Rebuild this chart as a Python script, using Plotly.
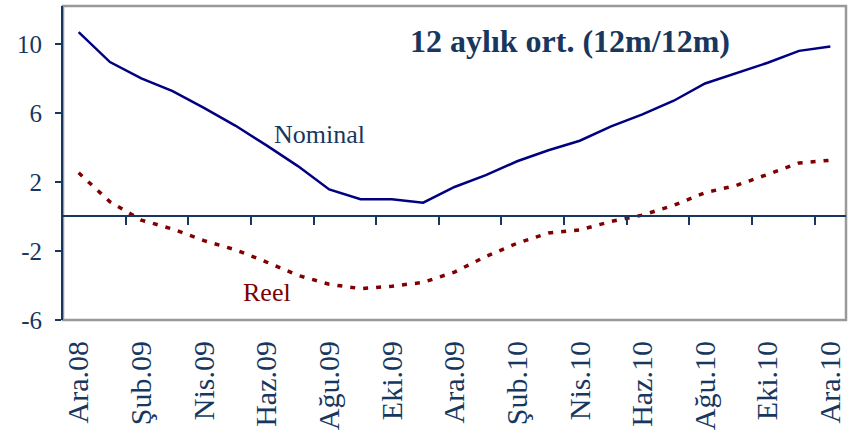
import plotly.graph_objects as go

# ── Data ───────────────────────────────────────────────
months = [
    "Ara.08", "Oca.09", "Şub.09", "Mar.09", "Nis.09", "May.09", "Haz.09",
    "Tem.09", "Ağu.09", "Eyl.09", "Eki.09", "Kas.09", "Ara.09", "Oca.10",
    "Şub.10", "Mar.10", "Nis.10", "May.10", "Haz.10", "Tem.10", "Ağu.10",
    "Eyl.10", "Eki.10", "Kas.10", "Ara.10",
]
nominal = [10.68, 8.95, 8.0, 7.27, 6.3, 5.27, 4.12, 2.92, 1.57, 1.0, 1.0, 0.8,
           1.71, 2.4, 3.2, 3.84, 4.39, 5.22, 5.92, 6.71, 7.71, 8.32, 8.91, 9.6, 9.85]
reel = [2.53, 0.85, -0.21, -0.73, -1.4, -1.93, -2.64, -3.41, -3.93, -4.18, -4.04, -3.82,
        -3.22, -2.32, -1.55, -0.96, -0.78, -0.29, 0.08, 0.65, 1.38, 1.8, 2.44, 3.1, 3.26]
y_ticks = [-6, -2, 2, 6, 10]
y_tick_text = ["-6", "-2", "2", "6", "10"]
y_range = [-6, 12.2]

NAVY = "#000080"
DARK_RED = "#800000"
TEXT_BLUE = "#17375E"
FONT = "Liberation Serif"

x_idx = list(range(len(months)))
label_vals = x_idx[::2]
label_text = [months[i] for i in label_vals]
boundary_ticks = [i + 0.5 for i in x_idx[1:-1:2]]

fig = go.Figure()
fig.add_trace(go.Scatter(
    x=x_idx, y=nominal, mode="lines", name="Nominal",
    line=dict(color=NAVY, width=2.5),
))
fig.add_trace(go.Scatter(
    x=x_idx, y=reel, mode="lines", name="Reel",
    line=dict(color=DARK_RED, width=3.5, dash="5px,8px"),
))
# invisible trace to activate the zero-line axis with tick marks
fig.add_trace(go.Scatter(x=x_idx, y=reel, xaxis="x2", mode="none",
                         showlegend=False, hoverinfo="skip"))

zero_pos = (0 - y_range[0]) / (y_range[1] - y_range[0])

fig.update_layout(
    width=855, height=446,
    margin=dict(l=63, r=9, t=6, b=126),
    paper_bgcolor="white", plot_bgcolor="white",
    showlegend=False,
    font=dict(family=FONT, color=TEXT_BLUE),
    xaxis=dict(
        range=[-0.5, len(months) - 0.5], automargin=False,
        tickvals=label_vals, ticktext=label_text,
        tickangle=-90, tickfont=dict(size=30, family=FONT, color=TEXT_BLUE),
        ticklabelstandoff=14,
        showgrid=False, zeroline=False, showline=False, ticks="",
    ),
    xaxis2=dict(
        overlaying="x", matches="x", anchor="free", position=zero_pos,
        tickvals=boundary_ticks, ticks="outside", ticklen=8, tickwidth=2,
        tickcolor=TEXT_BLUE, showline=True, linecolor=TEXT_BLUE, linewidth=2,
        showticklabels=False, showgrid=False, zeroline=False,
    ),
    yaxis=dict(
        range=y_range, tickvals=y_ticks, ticktext=y_tick_text, automargin=False,
        ticks="outside", ticklen=6, tickwidth=2, tickcolor=TEXT_BLUE,
        showline=True, linecolor=TEXT_BLUE, linewidth=2,
        showgrid=False, zeroline=False, ticklabelstandoff=8,
        tickfont=dict(size=25, family=FONT, color=TEXT_BLUE),
    ),
    shapes=[dict(
        type="rect", xref="paper", yref="paper", x0=0, x1=1, y0=0, y1=1,
        line=dict(color="#999999", width=2.5), layer="below",
    )],
    annotations=[
        dict(text="12 aylık ort. (12m/12m)", xref="paper", yref="paper",
             x=0.648, y=0.89, xanchor="center", yanchor="middle", showarrow=False,
             font=dict(size=32, family=FONT, color=TEXT_BLUE, weight="bold")),
        dict(text="Nominal", x=7.7, y=4.78, showarrow=False,
             font=dict(size=26, family=FONT, color=TEXT_BLUE)),
        dict(text="Reel", x=6.0, y=-4.4, showarrow=False,
             font=dict(size=26, family=FONT, color=DARK_RED)),
    ],
)

fig.write_html("out.html", config={"displayModeBar": False},
               post_script="document.body.style.margin='0';")
